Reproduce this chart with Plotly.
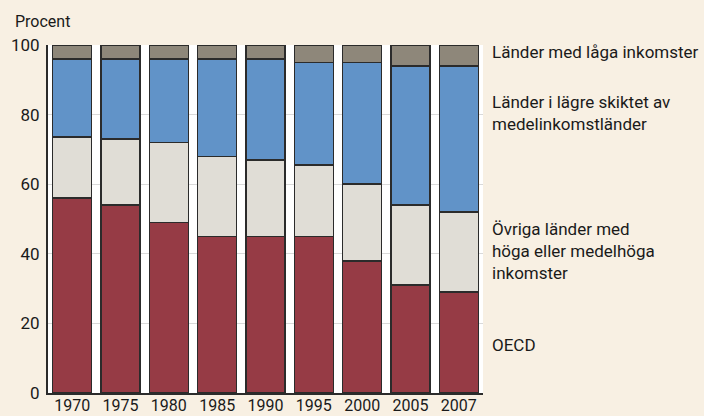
import plotly.graph_objects as go

years = ["1970", "1975", "1980", "1985", "1990", "1995", "2000", "2005", "2007"]
oecd = [56, 54, 49, 45, 45, 45, 38, 31, 29]
ovriga = [17.5, 19, 23, 23, 22, 20.5, 22, 23, 23]
lagre = [22.5, 23, 24, 28, 29, 29.5, 35, 40, 42]
laga = [4, 4, 4, 4, 4, 5, 5, 6, 6]

series = [
    ("OECD", oecd, "#963B45"),
    ("Övriga länder med höga eller medelhöga inkomster", ovriga, "#E0DDD6"),
    ("Länder i lägre skiktet av medelinkomstländer", lagre, "#6193C8"),
    ("Länder med låga inkomster", laga, "#8E877A"),
]

FONT = "Roboto, sans-serif"

fig = go.Figure()
for name, vals, col in series:
    fig.add_trace(go.Bar(
        x=years, y=vals, name=name,
        marker=dict(color=col, line=dict(color="#2b2b2b", width=1.5)),
    ))

labels = [
    ("Länder med låga inkomster", 98),
    ("Länder i lägre skiktet av<br>medelinkomstländer", 80.5),
    ("Övriga länder med<br>höga eller medelhöga<br>inkomster", 40.8),
    ("OECD", 13.8),
]
annotations = [
    dict(text=t, x=1.016, xref="paper", y=yv, yref="y", xanchor="left", yanchor="middle",
         showarrow=False, align="left", font=dict(size=17, color="#1a1a1a", family=FONT))
    for t, yv in labels
]
annotations.append(dict(text="Procent", x=-0.081, xref="paper", y=1.067, yref="paper",
                        showarrow=False, xanchor="left", yanchor="middle",
                        font=dict(size=16, color="#1a1a1a", family=FONT)))

fig.update_layout(
    width=704, height=416,
    margin=dict(l=48, r=221, t=45, b=23, autoexpand=False),
    paper_bgcolor="#F8F0E3",
    plot_bgcolor="#FFFFFF",
    barmode="stack",
    bargap=0.19,
    showlegend=False,
    font=dict(family=FONT, size=17, color="#1a1a1a"),
    annotations=annotations,
    xaxis=dict(showline=True, linecolor="#2b2b2b", linewidth=2, ticks="",
               tickfont=dict(size=16), showgrid=False, automargin=False,
               ticklabelstandoff=-3),
    yaxis=dict(range=[0, 100], dtick=20, showline=True, linecolor="#2b2b2b", linewidth=2,
               gridcolor="#D9D9D9", gridwidth=1, ticks="", ticklabelstandoff=3,
               tickfont=dict(size=17), zeroline=False, automargin=False),
)

fig.write_html("out.html", config={"displayModeBar": False},
               post_script="document.body.style.margin='0';")
